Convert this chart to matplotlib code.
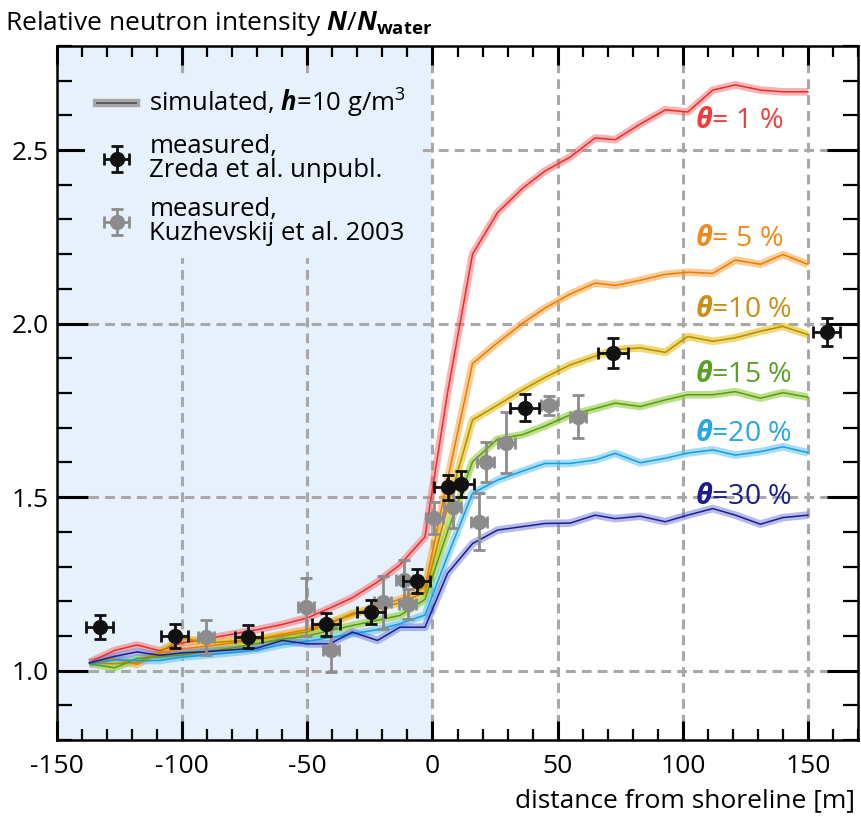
import numpy as np
import matplotlib
matplotlib.use("Agg")
import matplotlib.pyplot as plt
from matplotlib.ticker import MultipleLocator
from matplotlib.lines import Line2D

plt.rcParams['font.family'] = ['Open Sans', 'DejaVu Sans']
plt.rcParams['axes.unicode_minus'] = False
plt.rcParams['mathtext.fontset'] = 'custom'
plt.rcParams['mathtext.rm'] = 'Open Sans'
plt.rcParams['mathtext.it'] = 'Open Sans:italic'
plt.rcParams['mathtext.bf'] = 'Open Sans:bold'
plt.rcParams['mathtext.bfit'] = 'Open Sans:italic:bold'

# ---------------- data ----------------
dist = [-137, -127, -118, -109, -100, -90, -80, -70, -60, -50, -41, -32, -22, -13, -3,
        6, 16, 26, 36, 45, 55, 65, 73, 83, 93, 102, 112, 121, 131, 140, 150]

theta_labels = ['= 1 %', '= 5 %', '=10 %', '=15 %', '=20 %', '=30 %']

sim_1 = [1.024, 1.058, 1.074, 1.057, 1.080, 1.092, 1.105, 1.118, 1.133, 1.152, 1.180, 1.210,
         1.255, 1.305, 1.385, 1.80, 2.20, 2.32, 2.39, 2.44, 2.48, 2.535, 2.53, 2.575, 2.616,
         2.61, 2.673, 2.688, 2.673, 2.668, 2.668]
sim_5 = [1.024, 1.034, 1.018, 1.050, 1.063, 1.070, 1.080, 1.090, 1.105, 1.118, 1.140, 1.160,
         1.188, 1.205, 1.240, 1.55, 1.885, 1.945, 2.001, 2.045, 2.085, 2.117, 2.110, 2.125,
         2.142, 2.148, 2.145, 2.183, 2.171, 2.199, 2.171]
sim_10 = [1.022, 1.020, 1.024, 1.053, 1.094, 1.080, 1.085, 1.090, 1.100, 1.112, 1.135, 1.165,
          1.180, 1.195, 1.225, 1.47, 1.7225, 1.765, 1.809, 1.845, 1.881, 1.906, 1.925, 1.930,
          1.917, 1.963, 1.949, 1.959, 1.978, 1.992, 1.968]
sim_15 = [1.020, 1.008, 1.035, 1.040, 1.045, 1.055, 1.065, 1.078, 1.090, 1.100, 1.115, 1.130,
          1.145, 1.159, 1.205, 1.40, 1.602, 1.667, 1.680, 1.705, 1.737, 1.755, 1.771, 1.761,
          1.780, 1.795, 1.795, 1.804, 1.785, 1.801, 1.788]
sim_20 = [1.020, 1.031, 1.029, 1.029, 1.039, 1.045, 1.052, 1.060, 1.075, 1.085, 1.095, 1.106,
          1.118, 1.135, 1.160, 1.33, 1.511, 1.549, 1.575, 1.597, 1.597, 1.607, 1.626, 1.599,
          1.612, 1.627, 1.636, 1.621, 1.631, 1.645, 1.628]
sim_30 = [1.022, 1.041, 1.054, 1.044, 1.051, 1.055, 1.060, 1.065, 1.087, 1.077, 1.077, 1.111,
          1.087, 1.125, 1.125, 1.28, 1.366, 1.405, 1.415, 1.424, 1.425, 1.448, 1.438, 1.445,
          1.429, 1.448, 1.467, 1.448, 1.422, 1.441, 1.448]

# theta label anchor (left x, center y)
label_x = [105, 105, 105, 105, 105, 105]
label_y = [2.584, 2.243, 2.040, 1.852, 1.682, 1.500]

# measured, Zreda et al. unpubl.
zreda_x = [-133, -103, -73.5, -42.5, -24.5, -6.3, 6.1, 11.2, 36.8, 72.1, 157.5]
zreda_y = [1.125, 1.100, 1.098, 1.133, 1.169, 1.258, 1.528, 1.537, 1.758, 1.915, 1.975]
zreda_xerr = [5.5, 5.5, 5.5, 5.5, 5.5, 5.5, 5.5, 5.5, 5.7, 6.0, 5.5]
zreda_yerr = [0.034, 0.034, 0.034, 0.034, 0.034, 0.034, 0.037, 0.037, 0.039, 0.043, 0.040]

# measured, Kuzhevskij et al. 2003
kuz_x = [-90.5, -50.5, -40.5, -19.9, -11.2, -9.9, 0.8, 8.1, 18.5, 21.2, 29.5, 46.5, 58.1]
kuz_y = [1.096, 1.183, 1.060, 1.197, 1.260, 1.193, 1.440, 1.472, 1.429, 1.602, 1.657, 1.764, 1.732]
kuz_xerr = [3.3] * 13
kuz_yerr = [0.050, 0.084, 0.065, 0.077, 0.058, 0.043, 0.046, 0.060, 0.082, 0.058, 0.088, 0.026, 0.063]

# ---------------- styles ----------------
sims = [sim_1, sim_5, sim_10, sim_15, sim_20, sim_30]
line_cols = ['#ee2a2a', '#f07a00', '#b88c00', '#5a9c10', '#10a0e0', '#1c1c90']
band_cols = ['#f26a6a', '#f8a440', '#e6c62a', '#98d04a', '#6cc6f0', '#6a78d6']
band_alpha = [0.5, 0.55, 0.65, 0.65, 0.6, 0.5]
text_cols = ['#f03c3c', '#f08a1e', '#c8901a', '#5aa028', '#28a8dc', '#1c1c8c']

FS = 19

fig = plt.figure(figsize=(8.61, 8.19), dpi=100)
W, H = 861, 819
ax = fig.add_axes([57 / W, (H - 740) / H, (858 - 57) / W, (740 - 46) / H])
ax.set_xlim(-150, 170)
ax.set_ylim(0.8, 2.8)

ax.axvspan(-150, 0, color='#e6f1fc', zorder=0, lw=0)

for v in [-100, -50, 0, 50, 100, 150]:
    ax.axvline(v, color='#a8a8a8', lw=2.2, ls=(0, (3.2, 2)), zorder=1)
for v in [1.0, 1.5, 2.0, 2.5]:
    ax.axhline(v, color='#a8a8a8', lw=2.2, ls=(0, (3.2, 2)), zorder=1)

for ys, lc, bc, ba in zip(sims, line_cols, band_cols, band_alpha):
    ax.plot(dist, ys, color=bc, lw=5.5, alpha=ba, solid_joinstyle='round',
            solid_capstyle='butt', zorder=2)
    ax.plot(dist, ys, color=lc, lw=1.1, zorder=3)

for lab, lx, ly, tc in zip(theta_labels, label_x, label_y, text_cols):
    ax.text(lx, ly, r'$\mathbfit{\theta}$' + lab, color=tc, fontsize=20.5,
            ha='left', va='center', zorder=4)

eb_kuz = ax.errorbar(kuz_x, kuz_y, xerr=kuz_xerr, yerr=kuz_yerr, fmt='o', color='#8c8c8c',
                     ms=10, elinewidth=2, capsize=4, capthick=2, zorder=5)
eb_zr = ax.errorbar(zreda_x, zreda_y, xerr=zreda_xerr, yerr=zreda_yerr, fmt='o', color='#111111',
                    ms=10, elinewidth=2, capsize=4, capthick=2, zorder=6)

ax.xaxis.set_major_locator(MultipleLocator(50))
ax.xaxis.set_minor_locator(MultipleLocator(10))
ax.yaxis.set_major_locator(MultipleLocator(0.5))
ax.yaxis.set_minor_locator(MultipleLocator(0.1))
ax.yaxis.set_major_formatter(matplotlib.ticker.FormatStrFormatter('%.1f'))
ax.tick_params(axis='x', which='major', direction='in', length=14, width=2.2,
               top=True, bottom=True, labelsize=FS, pad=10)
ax.tick_params(axis='x', which='minor', direction='in', length=8, width=1.6,
               top=True, bottom=True)
ax.tick_params(axis='y', which='major', direction='in', length=22, width=2.2,
               left=True, right=True, labelsize=FS, pad=6)
ax.tick_params(axis='y', which='minor', direction='in', length=11, width=1.6,
               left=True, right=True)
for sp in ax.spines.values():
    sp.set_linewidth(1.8)
    sp.set_zorder(7)

sim_handle = (Line2D([], [], color='#a6a6a6', lw=6), Line2D([], [], color='#555555', lw=1.3))
leg = ax.legend([sim_handle, eb_zr, eb_kuz],
                [r'simulated, $\mathbfit{h}$=10 g/m$^3$', 'measured,\nZreda et al. unpubl.',
                 'measured,\nKuzhevskij et al. 2003'],
                loc='upper left', bbox_to_anchor=(0.035, 0.958), borderaxespad=0,
                fontsize=18.5, frameon=True, facecolor='#e6f1fc', edgecolor='none',
                framealpha=1, fancybox=False, handlelength=1.55, handletextpad=0.5,
                labelspacing=0.55, borderpad=0.45)
for t in leg.get_texts():
    t.set_linespacing(0.95)
leg.set_zorder(8)

fig.text(5 / W, 1 - 30 / H,
         r'Relative neutron intensity $\mathbfit{N}/\mathbfit{N}_{\mathbf{water}}$',
         fontsize=FS, ha='left', va='baseline')
fig.text(855 / W, 1 - 801 / H, 'distance from shoreline [m]', fontsize=FS,
         ha='right', va='center')

fig.savefig('out.png', dpi=100)
